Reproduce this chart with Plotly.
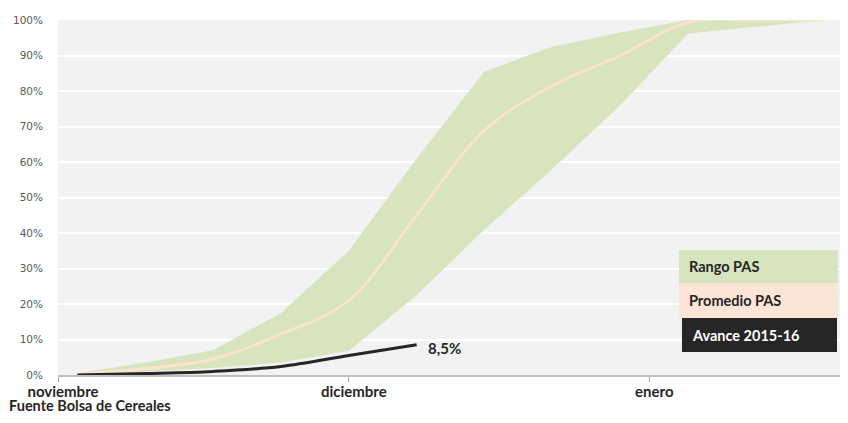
import plotly.graph_objects as go

# ---- data ----
fechas = ["2015-11-03", "2015-11-10", "2015-11-17", "2015-11-24", "2015-12-01", "2015-12-08",
          "2015-12-15", "2015-12-22", "2015-12-29", "2016-01-05", "2016-01-12", "2016-01-19"]
rango_min = [0.0, 0.010, 0.020, 0.035, 0.068, 0.225, 0.41, 0.58, 0.76, 0.962, 0.98, 1.0]
rango_max = [0.005, 0.035, 0.070, 0.175, 0.350, 0.610, 0.855, 0.925, 0.965, 1.0, 1.0, 1.0]
promedio = [0.002, 0.018, 0.045, 0.115, 0.210, 0.450, 0.690, 0.815, 0.900, 0.993, 1.0, 1.0]
avance_fechas = fechas[:6]
avance = [0.0, 0.004, 0.010, 0.024, 0.055, 0.085]

mes_ticks = ["2015-11-01", "2015-12-01", "2016-01-01"]
mes_labels = ["noviembre", "diciembre", "enero"]

legend_labels = ["Rango PAS", "Promedio PAS", "Avance 2015-16"]
fuente = "Fuente Bolsa de Cereales"

# ---- styling ----
GREEN = "#D7E4BD"
CREAM = "#FBE3CC"
PEACH = "#FCE4D6"
DARK = "#262626"
FONT = "Lato, Open Sans, sans-serif"

OFF = 8  # page body margin
W, H = 840, 407
ML, MR, MT, MB = 50, 0, 12, 40
PW, PH = W - ML - MR, H - MT - MB


def px(x):
    return (x - OFF - ML) / PW


def py(y):
    return (H - MB - (y - OFF)) / PH


fig = go.Figure()

fig.add_trace(go.Scatter(x=fechas, y=rango_min, mode="lines", line=dict(width=0, color=GREEN),
                         showlegend=False, hoverinfo="skip"))
fig.add_trace(go.Scatter(x=fechas, y=rango_max, mode="lines", line=dict(width=0, color=GREEN),
                         fill="tonexty", fillcolor=GREEN, name=legend_labels[0], showlegend=False))
fig.add_trace(go.Scatter(x=fechas, y=promedio, mode="lines",
                         line=dict(width=3, color=CREAM, shape="spline", smoothing=1.0),
                         name=legend_labels[1], showlegend=False))
fig.add_trace(go.Scatter(x=avance_fechas, y=avance, mode="lines",
                         line=dict(width=3, color=DARK, shape="spline", smoothing=1.0),
                         name=legend_labels[2], showlegend=False))

# label of last value
last_txt = f"{avance[-1] * 100:.1f}%".replace(".", ",")
fig.add_annotation(x=avance_fechas[-1], y=avance[-1], text=f"<b>{last_txt}</b>", showarrow=False,
                   xanchor="left", yanchor="middle", xshift=9, yshift=-3,
                   font=dict(family=FONT, size=15, color=DARK))

# custom legend boxes (screen pixel positions)
boxes = [
    (679, 838, 250, 283, GREEN, DARK),
    (679, 838, 283, 318, PEACH, DARK),
    (682, 837, 318, 352, DARK, "#FFFFFF"),
]
for (x0, x1, y0, y1, fillc, txtc), lab in zip(boxes, legend_labels):
    fig.add_shape(type="rect", xref="paper", yref="paper", x0=px(x0), x1=px(x1),
                  y0=py(y1), y1=py(y0), fillcolor=fillc, line=dict(width=0), layer="above")
    fig.add_annotation(xref="paper", yref="paper", x=px(x0 + 8), y=py((y0 + y1) / 2),
                       text=f"<b>{lab}</b>", showarrow=False, xanchor="left", yanchor="middle",
                       font=dict(family=FONT, size=14.5, color=txtc))

fig.add_annotation(xref="paper", yref="paper", x=px(OFF), y=py(OFF + H), text=f"<b>{fuente}</b>",
                   showarrow=False, xanchor="left", yanchor="bottom", borderpad=0,
                   font=dict(family=FONT, size=14.5, color=DARK))

fig.update_layout(
    width=W, height=H,
    margin=dict(l=ML, r=MR, t=MT, b=MB),
    paper_bgcolor="white", plot_bgcolor="#F2F2F2",
    showlegend=False,
)
fig.update_xaxes(
    type="date", range=["2015-11-01", "2016-01-21 12:00"],
    tickvals=mes_ticks, ticktext=[f"<b>{t}</b>" for t in mes_labels],
    tickfont=dict(family=FONT, size=15, color=DARK),
    ticks="outside", ticklen=5, tickcolor="#A6A6A6", tickwidth=1,
    ticklabelshift=5, ticklabelstandoff=-3,
    showgrid=False, showline=True, linecolor="#BFBFBF", linewidth=2, zeroline=False,
)
fig.update_yaxes(
    range=[0, 1], dtick=0.1, tickformat=".0%",
    tickfont=dict(family="DejaVu Sans", size=10.5, color="#595959"),
    showgrid=True, gridcolor="white", gridwidth=1.5, zeroline=False,
    ticklabelstandoff=14,
)

fig.write_html("out.html")
